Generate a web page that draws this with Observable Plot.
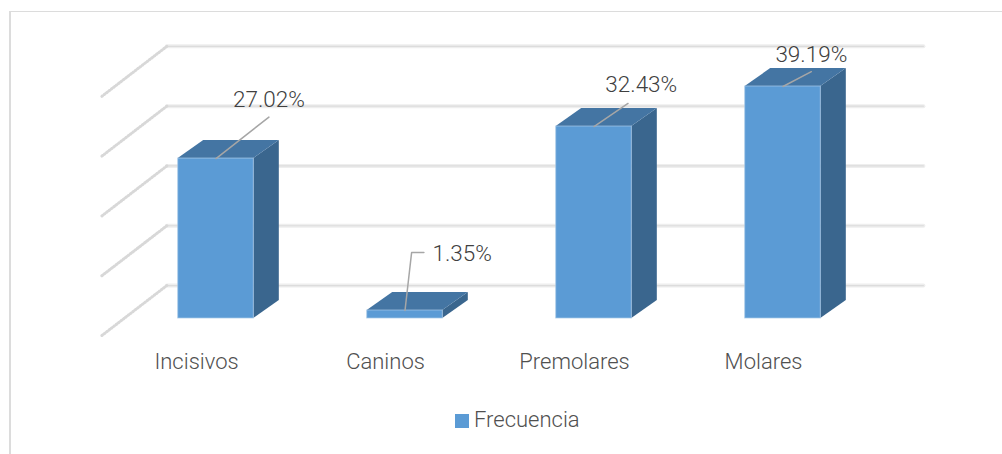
<!DOCTYPE html>
<html lang="es">
<head>
<meta charset="utf-8">
<script src="https://cdn.jsdelivr.net/npm/d3@7"></script>
<script src="https://cdn.jsdelivr.net/npm/@observablehq/plot@0.6"></script>
<style>
  html, body { margin: 0; padding: 0; background: #fff; }
  #page { position: relative; width: 1002px; height: 454px; overflow: hidden; }
  #frame { position: absolute; left: 9px; top: 11px; right: 0; bottom: -4px; border: solid #dcdcdc; border-width: 1.5px 0 0 2px; box-sizing: border-box; }
  #chart { position: absolute; left: 0; top: 0; }
  #legend { position: absolute; left: 0; right: 0; top: 406px; height: 28px; font: 300 22px "Roboto", sans-serif; color: #505050; }
  #legend i { position: absolute; left: 455px; top: 8px; width: 14px; height: 14px; background: #5b9bd5; }
  #legend span { position: absolute; left: 474px; top: 0; line-height: 28px; }
  svg text { font-family: "Roboto", sans-serif; font-weight: 300; }
</style>
</head>
<body>
<div id="page">
  <div id="frame"></div>
  <div id="chart"></div>
  <div id="legend"><i></i><span>Frecuencia</span></div>
</div>
<script>
// Frecuencia por tipo de diente
const categories = ["Incisivos", "Caninos", "Premolares", "Molares"];
const values = [27.02, 1.35, 32.43, 39.19];
const gridTicks = [0, 10, 20, 30, 40];

// Pseudo-3D projection, in scale units (x: category slots, y: percent)
const halfWidth = 0.2;
const depthX = 0.135, depthY = 3.04;       // bar depth
const wallY = 5.57;                        // back wall offset from the front baseline
const floorX = 0.344, floorY = 8.45;       // diagonal gridline run on the side wall
const gridScale = 1.01;                    // back wall is drawn slightly stretched
const gridLeft = -0.26, gridRight = 3.743;

const bars = categories.map((name, i) => ({name, i, value: values[i]}));

// Leader offsets from each bar's top centre to its label
const leaders = [
  {end: [0.28, 7.0], label: [0.28, 10.0]},
  {bend: [0.035, 9.8], end: [0.1, 9.8], label: [0.145, 9.6]},
  {end: [0.18, 3.9], label: [0.25, 7.1]},
  {end: [0.15, 2.5], label: [0.15, 5.4]}
];

const gridBack = gridTicks.flatMap(t => [
  {t, x: gridLeft, y: wallY + t * gridScale},
  {t, x: gridRight, y: wallY + t * gridScale}
]);
const gridSide = gridTicks.flatMap(t => [
  {t, x: gridLeft, y: wallY + t * gridScale},
  {t, x: gridLeft - floorX, y: wallY + t * gridScale - floorY}
]);
const leaderLines = bars.flatMap((b, k) => {
  const l = leaders[k];
  const pts = [[0, 0]];
  if (l.bend) pts.push(l.bend);
  pts.push(l.end);
  return pts.map(([dx, dy]) => ({k, x: b.i + dx, y: b.value + dy}));
});
const valueLabels = bars.map((b, k) => ({
  x: b.i + leaders[k].label[0],
  y: b.value + leaders[k].label[1],
  text: b.value.toFixed(2) + "%",
  bent: !!leaders[k].bend
}));
const valueLabel = {x: "x", y: "y", text: "text", fill: "#404040", fontSize: 22.5};

const plot = Plot.plot({
  width: 1002,
  height: 454,
  margin: 0,
  x: {domain: [0, 3], range: [215.5, 782.5], axis: null},
  y: {domain: [0, 45], range: [318, 51.6], axis: null},
  marks: [
    // back wall and side wall gridlines
    Plot.line(gridBack, {x: "x", y: "y", z: "t", stroke: "#eeeeee", strokeWidth: 4}),
    Plot.line(gridBack, {x: "x", y: "y", z: "t", stroke: "#dcdcdc", strokeWidth: 1.2}),
    Plot.line(gridSide, {x: "x", y: "y", z: "t", stroke: "#d8d8d8", strokeWidth: 3, strokeDasharray: "1 2"}),

    // right side of each bar
    Plot.areaY(bars.flatMap(b => [
      {i: b.i, x: b.i + halfWidth, y1: 0, y2: b.value},
      {i: b.i, x: b.i + halfWidth + depthX, y1: depthY, y2: b.value + depthY}
    ]), {x: "x", y1: "y1", y2: "y2", z: "i", fill: "#3a668e", curve: "linear"}),

    // top of each bar
    Plot.areaX(bars.flatMap(b => [
      {i: b.i, y: b.value, x1: b.i - halfWidth, x2: b.i + halfWidth},
      {i: b.i, y: b.value + depthY, x1: b.i - halfWidth + depthX, x2: b.i + halfWidth + depthX}
    ]), {y: "y", x1: "x1", x2: "x2", z: "i", fill: "#4475a3", curve: "linear"}),

    // front of each bar
    Plot.rect(bars, {
      x1: d => d.i - halfWidth,
      x2: d => d.i + halfWidth,
      y1: 0,
      y2: "value",
      fill: "#5b9bd5",
      stroke: "#a9cbe9",
      strokeWidth: 1,
      strokeOpacity: 0.7
    }),

    // data labels and their leaders
    Plot.line(leaderLines, {x: "x", y: "y", z: "k", stroke: "#a6a6a6", strokeWidth: 1.5}),
    Plot.text(valueLabels.filter(d => !d.bent), {...valueLabel, textAnchor: "middle"}),
    Plot.text(valueLabels.filter(d => d.bent), {...valueLabel, textAnchor: "start"}),

    // category labels
    Plot.text(bars, {
      x: d => d.i - 0.103,
      y: -7.4,
      text: "name",
      fill: "#505050",
      fontSize: 22
    })
  ]
});
document.getElementById("chart").append(plot);
</script>
</body>
</html>
